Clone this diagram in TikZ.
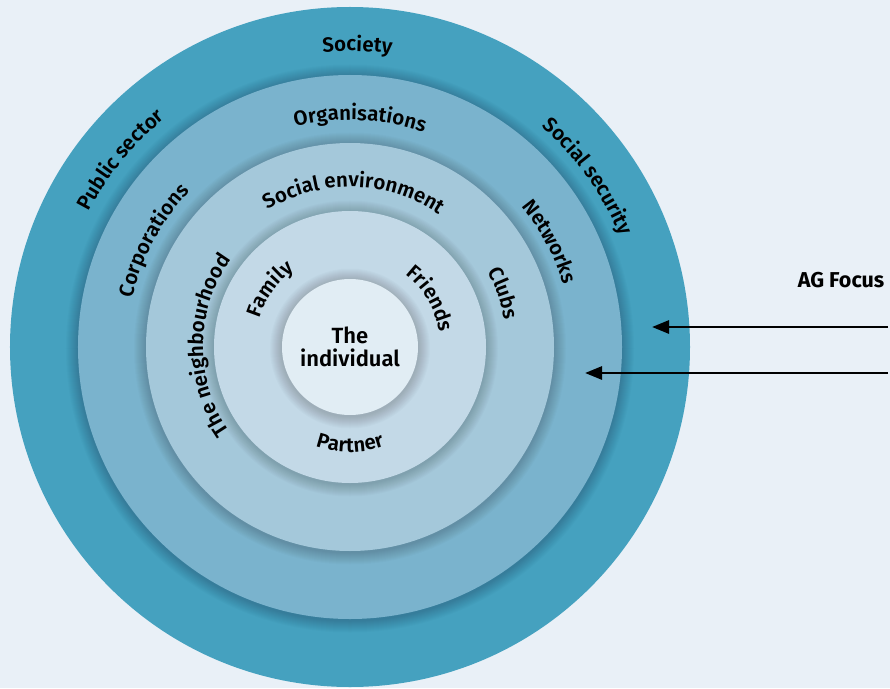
\documentclass[tikz,border=0pt]{standalone}
\usepackage{fontspec}
\setmainfont{Fira Sans}[UprightFont=* SemiBold, BoldFont=* Bold]
\usetikzlibrary{arrows.meta,decorations.text}

\definecolor{bgblue}{HTML}{E9F0F7}
\definecolor{ringA}{HTML}{45A1BF}
\definecolor{ringB}{HTML}{7AB3CD}
\definecolor{ringC}{HTML}{A4C8DA}
\definecolor{ringD}{HTML}{C3D9E7}
\definecolor{core}{HTML}{E1EDF4}

\newcommand{\ringfont}{\fontsize{20.5}{24}\selectfont}

\begin{document}
\begin{tikzpicture}[x=1pt, y=1pt,
  disc/.style={circle, inner sep=0pt, outer sep=0pt},
  halo/.style={fill=black, opacity=0.016},
  ring label/.style={decorate, decoration={text along path, text align=center, text={|\ringfont|#1}}},
  focus/.style={-{Triangle[length=17pt, width=13pt]}, line width=2.8pt}]
\fill[bgblue] (-350,-341) rectangle (540,347);
\useasboundingbox (-350,-341) rectangle (540,347);

% the rings, outside in, each with a soft shadow on the one below
\node[disc, fill=ringA, minimum size=680pt] (society) at (0,0) {};
\foreach \r/\col/\name in {272/ringB/orgs, 204/ringC/env, 136/ringD/close, 68/core/self} {
  \foreach \k in {1,...,12}
    \fill[halo] (0,-1.5) circle[radius=\r+\k];
  \node[disc, fill=\col, minimum size={2*\r*1pt}] (\name) at (0,0) {};
}
\node[align=center, font=\fontsize{22}{23}\selectfont] (selftext) at (self) {The\\individual};

% labels on the rings
\path[ring label={Society}] (138.6:296) arc[start angle=138.6, end angle=38.6, radius=296];
\path[ring label={Public sector}] (190.8:294) arc[start angle=190.8, end angle=90.8, radius=294];
\path[ring label={Social security}] (85.6:292) arc[start angle=85.6, end angle=-14.4, radius=292];
\path[ring label={Organisations}] (137.5:227) arc[start angle=137.5, end angle=37.5, radius=227];
\path[ring label={Corporations}] (201.6:223) arc[start angle=201.6, end angle=101.6, radius=223];
\path[ring label={Networks}] (77.8:222) arc[start angle=77.8, end angle=-22.2, radius=222];
\path[ring label={Social environment}] (148.5:160) arc[start angle=148.5, end angle=28.5, radius=160];
\path[ring label={The neighbourhood}] (239.3:147) arc[start angle=239.3, end angle=119.3, radius=147];
\path[ring label={Clubs}] (69.2:157) arc[start angle=69.2, end angle=-30.8, radius=157];
\path[ring label={Family}] (194.3:95) arc[start angle=194.3, end angle=94.3, radius=95];
\path[ring label={Friends}] (81:91) arc[start angle=81, end angle=-19, radius=91];
\path[ring label={Partner}] (220:105) arc[start angle=220, end angle=320, radius=105];

% focus arrows
\coordinate (f1) at (538,20);
\coordinate (f2) at (538,-26);
\coordinate (t1) at (302,20);
\coordinate (t2) at (235,-26);
\node[font=\bfseries\fontsize{21.5}{24}\selectfont] (agfocus) at (491,67) {AG Focus};
\draw[focus] (f1) -- (t1);
\draw[focus] (f2) -- (t2);
\end{tikzpicture}
\end{document}
